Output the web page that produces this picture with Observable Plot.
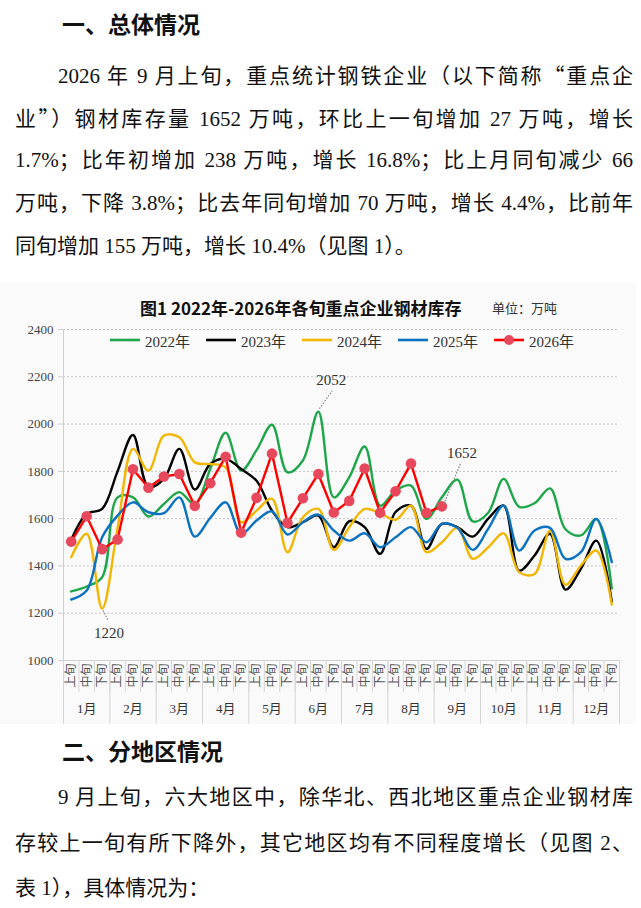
<!DOCTYPE html>
<html><head><meta charset="utf-8">
<script src="https://cdn.jsdelivr.net/npm/d3@7"></script>
<script src="https://cdn.jsdelivr.net/npm/@observablehq/plot@0.6"></script>
<style>
body{margin:0;width:641px;height:908px;position:relative;background:#fff;overflow:hidden;font-family:"Liberation Serif","Noto Sans CJK SC",serif;color:#111;}
.h{position:absolute;left:62px;font-family:"Noto Sans CJK SC",sans-serif;font-weight:700;font-size:23px;line-height:30px;height:30px;white-space:nowrap;}
.ln{position:absolute;left:15px;width:618px;font-size:21px;line-height:44px;height:44px;text-align:justify;text-align-last:justify;white-space:nowrap;}
.ln.ind{left:58px;width:575px;}
.ln.last{text-align-last:left;text-align:left;}
.q{font-family:"Noto Sans CJK SC",sans-serif;}
#bg{position:absolute;left:0;top:283px;width:636px;height:441px;background:#fafafa;}
#title{position:absolute;left:140px;top:296px;font-family:"Noto Sans CJK SC",sans-serif;font-weight:700;font-size:17px;line-height:24px;white-space:nowrap;color:#111;}
#unit{position:absolute;left:492px;top:298px;font-family:"Noto Sans CJK SC",sans-serif;font-size:13px;line-height:20px;white-space:nowrap;color:#333;}
#chart{position:absolute;left:0;top:320px;}
#legend{position:absolute;left:110px;top:330px;height:20px;display:flex;}
.item{width:96px;display:flex;align-items:center;font-size:15px;color:#333;white-space:nowrap;}
.item svg{margin-right:5px;}
</style></head>
<body>
<div class="h" style="top:8px">一、总体情况</div>
<div class="ln ind" style="top:52px">2026 年 9 月上旬，重点统计钢铁企业（以下简称<span class="q">“</span>重点企</div>
<div class="ln" style="top:95px">业<span class="q">”</span>）钢材库存量 1652 万吨，环比上一旬增加 27 万吨，增长</div>
<div class="ln" style="top:138px">1.7%；比年初增加 238 万吨，增长 16.8%；比上月同旬减少 66</div>
<div class="ln" style="top:181px">万吨，下降 3.8%；比去年同旬增加 70 万吨，增长 4.4%，比前年</div>
<div class="ln last" style="top:224px">同旬增加 155 万吨，增长 10.4%（见图 1）。</div>

<div id="bg"></div>
<div id="title">图1 2022年-2026年各旬重点企业钢材库存</div>
<div id="unit">单位：万吨</div>
<div id="chart"></div>
<div id="legend"></div>

<div class="h" style="top:735px">二、分地区情况</div>
<div class="ln ind" style="top:775px">9 月上旬，六大地区中，除华北、西北地区重点企业钢材库</div>
<div class="ln" style="top:821px">存较上一旬有所下降外，其它地区均有不同程度增长（见图 2、</div>
<div class="ln last" style="top:866px">表 1），具体情况为：</div>

<script>
// ---- data ----
const periods = ["上旬", "中旬", "下旬"];
const months = ["1月","2月","3月","4月","5月","6月","7月","8月","9月","10月","11月","12月"];
const yTicks = [1000, 1200, 1400, 1600, 1800, 2000, 2200, 2400];

const y2022 = [1292,1313,1352,1690,1690,1609,1662,1712,1660,1810,1963,1803,1890,1997,1796,1846,2052,1690,1775,1905,1655,1719,1740,1599,1690,1765,1588,1625,1768,1650,1665,1728,1555,1529,1598,1305];
const y2023 = [1510,1620,1641,1800,1954,1733,1768,1895,1723,1831,1853,1810,1760,1634,1564,1585,1613,1479,1589,1564,1451,1628,1655,1472,1578,1564,1524,1600,1655,1380,1444,1536,1300,1388,1507,1250];
const y2024 = [1437,1536,1220,1560,1895,1803,1951,1944,1838,1831,1817,1585,1634,1684,1458,1606,1641,1468,1564,1641,1623,1595,1655,1458,1500,1561,1430,1479,1538,1374,1366,1550,1320,1402,1465,1237];
const y2025 = [1258,1296,1521,1613,1669,1627,1623,1690,1524,1603,1669,1536,1592,1631,1533,1585,1617,1550,1507,1538,1479,1521,1564,1500,1578,1561,1468,1557,1655,1465,1550,1561,1430,1458,1599,1416];
const y2026 = [1503,1610,1471,1512,1809,1731,1778,1789,1654,1750,1862,1541,1688,1875,1582,1686,1789,1626,1675,1812,1625,1716,1833,1625,1652];

const seriesNames = ["2022年", "2023年", "2024年", "2025年", "2026年"];
const seriesColors = ["#1fa64b", "#000000", "#f2b705", "#0b72c2", "#ff0000"];
const dotColor = "#e8485c";

// annotations: index, value, label, text offsets (px), leader offsets (index units, value units)
const notes = [
  {i: 16, v: 2052, label: "2052", dx: 13, dy: -32, a: [0.07, 13, 0.9, 89]},
  {i: 24, v: 1652, label: "1652", dx: 20, dy: -53, a: [0.12, 10, 1.2, 180]},
  {i: 2,  v: 1220, label: "1220", dx: 7,  dy: 25,  a: [0.05, -8, 0.4, -51]}
];

// ---- build ----
const allSeries = [y2022, y2023, y2024, y2025, y2026];
const toRows = vals => vals.map((v, i) => ({i, v}));
const idx = d3.range(36);
const bounds = d3.range(37).map(k => k - 0.5);
const monthBounds = d3.range(13).map(k => k * 3 - 0.5);
const monthCenters = d3.range(12).map(k => k * 3 + 1);

const serif = "'Liberation Serif','Noto Sans CJK SC',serif";

const lineMarks = allSeries.slice(0, 4).map((vals, k) =>
  Plot.line(toRows(vals), {x: "i", y: "v", stroke: seriesColors[k], strokeWidth: 2.4, curve: "catmull-rom"})
);

const chart = Plot.plot({
  width: 641,
  height: 405,
  marginTop: 9,
  marginBottom: 65,
  marginLeft: 63,
  marginRight: 22,
  x: {type: "linear", domain: [-0.5, 35.5]},
  y: {domain: [1000, 2400]},
  style: {fontFamily: serif, fontSize: "13px", background: "transparent", color: "#444"},
  marks: [
    Plot.gridY(yTicks.filter(t => t > 1000), {stroke: "#c4c4c4", strokeOpacity: 1, strokeDasharray: "2,2", strokeWidth: 1}),
    Plot.ruleY([1000], {stroke: "#cfcfcf"}),
    Plot.ruleX([-0.5], {stroke: "#cfcfcf"}),
    Plot.axisY(yTicks, {tickSize: 5, tickPadding: 5, tickFormat: d => String(d), stroke: "#cfcfcf", fill: "#444", fontSize: 13, fontFamily: serif, label: null}),
    Plot.axisX(bounds, {tickSize: 32, tickFormat: () => "", stroke: "#d6d6d6", label: null}),
    Plot.axisX(monthBounds, {tickSize: 64, tickFormat: () => "", stroke: "#d6d6d6", label: null}),
    Plot.axisX(idx, {tickSize: 0, tickPadding: 3, tickRotate: -90, tickFormat: i => periods[i % 3], fontSize: 12, fill: "#555", label: null}),
    Plot.axisX(monthCenters, {tickSize: 0, tickPadding: 43, tickFormat: i => months[(i - 1) / 3], fontSize: 13, fill: "#333", label: null}),
    ...lineMarks,
    Plot.line(toRows(y2026), {x: "i", y: "v", stroke: seriesColors[4], strokeWidth: 2.4}),
    Plot.dot(toRows(y2026), {x: "i", y: "v", r: 5.3, fill: dotColor, stroke: "none"}),
    Plot.link(notes, {x1: d => d.i + d.a[0], y1: d => d.v + d.a[1], x2: d => d.i + d.a[2], y2: d => d.v + d.a[3], stroke: "#888", strokeWidth: 1.2, strokeDasharray: "1.5,1.5"}),
    ...notes.map(n => Plot.text([n], {x: "i", y: "v", text: "label", dx: n.dx, dy: n.dy, fontSize: 15, fill: "#333", fontFamily: serif}))
  ]
});
document.getElementById("chart").appendChild(chart);

// legend
const legend = document.getElementById("legend");
seriesNames.forEach((name, k) => {
  const item = document.createElement("div");
  item.className = "item";
  const dot = k === 4 ? `<circle cx="15" cy="5" r="5" fill="${dotColor}"/>` : "";
  item.innerHTML = `<svg width="30" height="10"><line x1="0" y1="5" x2="30" y2="5" stroke="${seriesColors[k]}" stroke-width="2.6"/>${dot}</svg><span>${name}</span>`;
  legend.appendChild(item);
});
</script>
</body></html>
